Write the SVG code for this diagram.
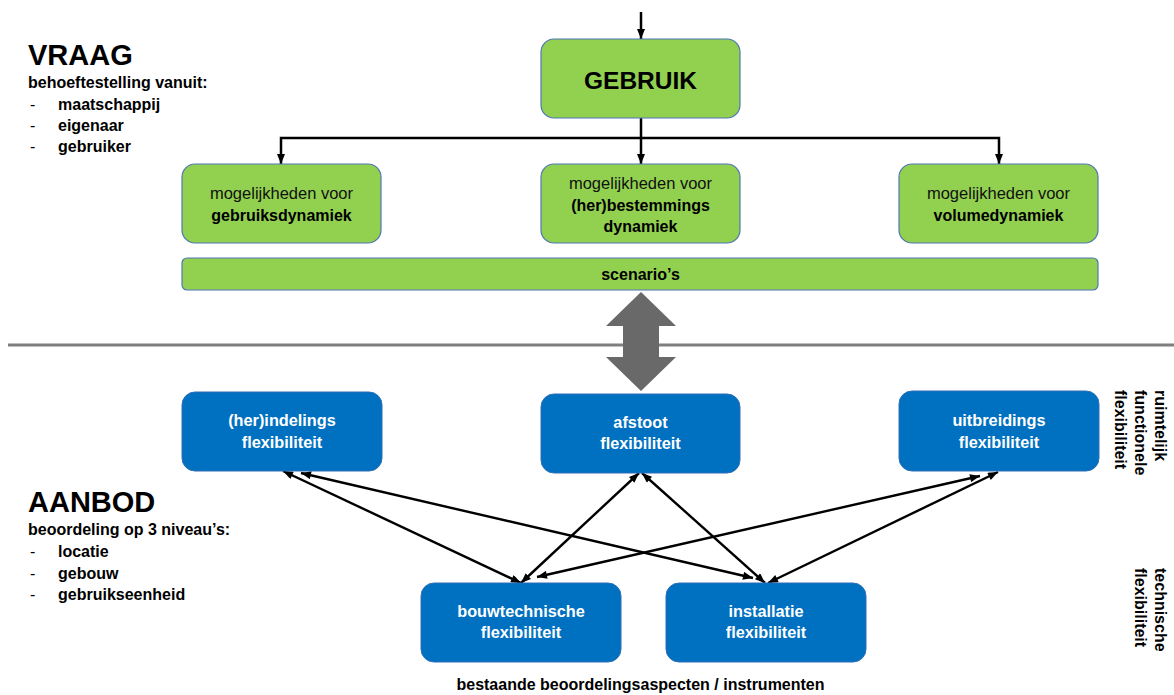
<svg xmlns="http://www.w3.org/2000/svg" width="1174" height="695" viewBox="0 0 1174 695">
  <defs>
    <marker id="head" viewBox="0 0 10 8" refX="10" refY="4" markerWidth="10" markerHeight="8" markerUnits="userSpaceOnUse" orient="auto-start-reverse">
      <path d="M0,0 L10,4 L0,8 z" fill="#000"/>
    </marker>
    <marker id="headSmall" viewBox="0 0 10 8" refX="10" refY="4" markerWidth="11" markerHeight="8" markerUnits="userSpaceOnUse" orient="auto-start-reverse">
      <path d="M0,0 L10,4 L0,8 z" fill="#000"/>
    </marker>
  </defs>
  <style>
    text { font-family: "Liberation Sans", Arial, sans-serif; fill: #000; }
    .title { font-size: 29px; font-weight: bold; }
    .sub { font-size: 16px; font-weight: bold; }
    .dash { font-size: 16px; }
    .green { fill: #92D050; stroke: #4F77B3; stroke-width: 1.2; }
    .blue { fill: #0070C0; stroke: #2E6FB7; stroke-width: 1; }
    .reg { font-size: 16.5px; text-anchor: middle; fill: #111; }
    .bld { font-size: 16px; font-weight: bold; text-anchor: middle; }
    .wht { font-size: 16.3px; font-weight: bold; text-anchor: middle; fill: #fff; }
    .side { font-size: 16px; font-weight: bold; }
    .tree { fill: none; stroke: #000; stroke-width: 2.5; }
    .link { fill: none; stroke: #000; stroke-width: 2.4; }
  </style>
  <rect width="1174" height="695" fill="#fff"/>

  <!-- demand side legend -->
  <g id="vraag-legend">
    <text class="title" x="28" y="65">VRAAG</text>
    <text class="sub" x="28" y="88">behoeftestelling vanuit:</text>
    <text class="dash" x="30" y="110">-</text>
    <text class="sub" x="58" y="110">maatschappij</text>
    <text class="dash" x="30" y="131">-</text>
    <text class="sub" x="58" y="131">eigenaar</text>
    <text class="dash" x="30" y="152">-</text>
    <text class="sub" x="58" y="152">gebruiker</text>
  </g>

  <!-- supply side legend -->
  <g id="aanbod-legend">
    <text class="title" x="28" y="512">AANBOD</text>
    <text class="sub" x="28" y="535">beoordeling op 3 niveau’s:</text>
    <text class="dash" x="30" y="557">-</text>
    <text class="sub" x="58" y="557">locatie</text>
    <text class="dash" x="30" y="579">-</text>
    <text class="sub" x="58" y="579">gebouw</text>
    <text class="dash" x="30" y="600">-</text>
    <text class="sub" x="58" y="600">gebruikseenheid</text>
  </g>

  <!-- separator between demand and supply -->
  <line x1="8" y1="345" x2="1174" y2="345" stroke="#7F7F7F" stroke-width="3"/>

  <!-- connectors -->
  <g id="connectors">
    <line class="tree" x1="641" y1="12" x2="641" y2="39" marker-end="url(#head)"/>
    <line class="tree" x1="641" y1="118" x2="641" y2="164" marker-end="url(#head)"/>
    <polyline class="tree" points="281,164 281,138 999,138 999,164" marker-start="url(#head)" marker-end="url(#head)"/>

    <line class="link" x1="283" y1="471" x2="521" y2="583" marker-start="url(#headSmall)" marker-end="url(#headSmall)"/>
    <line class="link" x1="301" y1="473" x2="753" y2="578" marker-start="url(#headSmall)" marker-end="url(#headSmall)"/>
    <line class="link" x1="639" y1="473" x2="521" y2="583" marker-start="url(#headSmall)" marker-end="url(#headSmall)"/>
    <line class="link" x1="642" y1="473" x2="765" y2="583" marker-start="url(#headSmall)" marker-end="url(#headSmall)"/>
    <line class="link" x1="980" y1="476" x2="537" y2="577" marker-start="url(#headSmall)" marker-end="url(#headSmall)"/>
    <line class="link" x1="998" y1="472" x2="768" y2="583" marker-start="url(#headSmall)" marker-end="url(#headSmall)"/>

    <!-- exchange between demand and supply -->
    <polygon points="641,292 676,326 659,326 659,357 676,357 641,391 606,357 623,357 623,326 606,326" fill="#696969"/>
  </g>

  <!-- demand nodes -->
  <g id="gebruik">
    <rect class="green" x="541" y="39" width="199" height="79" rx="13"/>
    <text x="640.5" y="89" font-size="24.5px" font-weight="bold" text-anchor="middle">GEBRUIK</text>
  </g>
  <g id="gebruiksdynamiek">
    <rect class="green" x="182" y="164" width="199" height="79" rx="13"/>
    <text class="reg" x="281.5" y="199">mogelijkheden voor</text>
    <text class="bld" x="281.5" y="221">gebruiksdynamiek</text>
  </g>
  <g id="bestemmingsdynamiek">
    <rect class="green" x="541" y="164" width="199" height="79" rx="13"/>
    <text class="reg" x="640.5" y="189">mogelijkheden voor</text>
    <text class="bld" x="640.5" y="211">(her)bestemmings</text>
    <text class="bld" x="640.5" y="232">dynamiek</text>
  </g>
  <g id="volumedynamiek">
    <rect class="green" x="899" y="164" width="199" height="79" rx="13"/>
    <text class="reg" x="998.5" y="199">mogelijkheden voor</text>
    <text class="bld" x="998.5" y="221">volumedynamiek</text>
  </g>
  <g id="scenarios">
    <rect class="green" x="182" y="258" width="916" height="32" rx="5"/>
    <text class="bld" x="640.5" y="280">scenario’s</text>
  </g>

  <!-- supply nodes -->
  <g id="herindelings">
    <rect class="blue" x="182" y="392" width="200" height="79" rx="13"/>
    <text class="wht" x="282" y="426">(her)indelings</text>
    <text class="wht" x="282" y="448">flexibiliteit</text>
  </g>
  <g id="afstoot">
    <rect class="blue" x="541" y="394" width="199" height="79" rx="13"/>
    <text class="wht" x="640.5" y="428">afstoot</text>
    <text class="wht" x="640.5" y="449">flexibiliteit</text>
  </g>
  <g id="uitbreidings">
    <rect class="blue" x="899" y="391" width="200" height="80" rx="13"/>
    <text class="wht" x="999" y="426">uitbreidings</text>
    <text class="wht" x="999" y="448">flexibiliteit</text>
  </g>
  <g id="bouwtechnische">
    <rect class="blue" x="421" y="583" width="200" height="79" rx="13"/>
    <text class="wht" x="521" y="617">bouwtechnische</text>
    <text class="wht" x="521" y="638">flexibiliteit</text>
  </g>
  <g id="installatie">
    <rect class="blue" x="666" y="583" width="200" height="79" rx="13"/>
    <text class="wht" x="766" y="617">installatie</text>
    <text class="wht" x="766" y="638">flexibiliteit</text>
  </g>

  <text class="bld" x="640.5" y="690">bestaande beoordelingsaspecten / instrumenten</text>

  <!-- vertical side labels -->
  <g id="ruimtelijk-label" transform="translate(1155,390) rotate(90)">
    <text class="side" x="0" y="0">ruimtelijk</text>
    <text class="side" x="0" y="20">functionele</text>
    <text class="side" x="0" y="40">flexibiliteit</text>
  </g>
  <g id="technische-label" transform="translate(1155,568) rotate(90)">
    <text class="side" x="0" y="0">technische</text>
    <text class="side" x="0" y="20">flexibiliteit</text>
  </g>
</svg>
